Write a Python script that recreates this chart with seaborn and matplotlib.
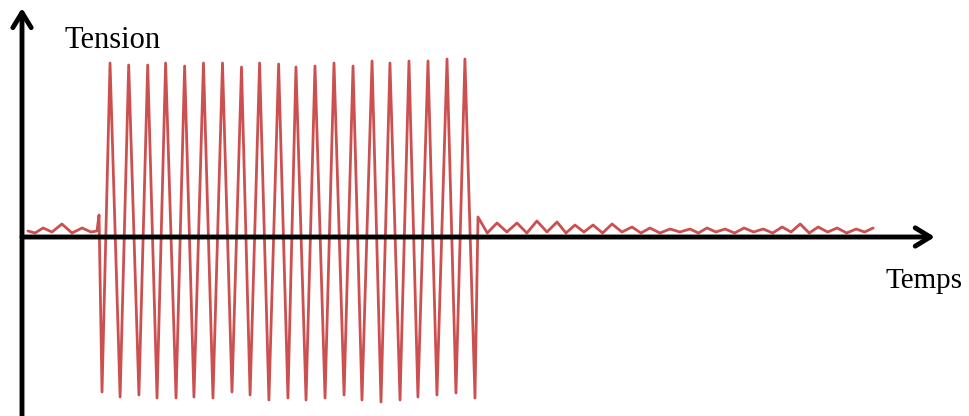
import numpy as np
import pandas as pd
import matplotlib
matplotlib.use("Agg")
import matplotlib.pyplot as plt
import seaborn as sns

# Signal: time (one unit = one period), tension (V)
pre_t = [0.32, 0.70, 1.13, 1.61, 2.14, 2.68, 3.22, 3.70, 4.02, 4.13]
pre_v = [0.06, 0.04, 0.09, 0.05, 0.13, 0.04, 0.09, 0.05, 0.06, 0.22]

trough_t = [4.29, 5.26, 6.27, 7.24, 8.26, 9.22, 10.24, 11.26, 12.23, 13.24, 14.26,
            15.23, 16.25, 17.27, 18.23, 19.25, 20.27, 21.23, 22.25, 23.27, 24.29]
trough_v = [-1.55, -1.60, -1.58, -1.61, -1.61, -1.60, -1.61, -1.55, -1.58, -1.63, -1.61,
            -1.63, -1.61, -1.58, -1.63, -1.65, -1.63, -1.60, -1.58, -1.56, -1.61]
peak_t = [4.72, 5.72, 6.74, 7.70, 8.72, 9.73, 10.75, 11.77, 12.74, 13.76,
          14.69, 15.71, 16.73, 17.75, 18.77, 19.73, 20.75, 21.77, 22.79, 23.75]
peak_v = [1.74, 1.72, 1.72, 1.74, 1.71, 1.74, 1.74, 1.70, 1.74, 1.73,
          1.70, 1.71, 1.74, 1.71, 1.76, 1.74, 1.76, 1.76, 1.78, 1.78]

post_high_t = [24.45, 25.47, 26.54, 27.61, 28.69, 29.65, 30.62, 31.64, 32.71, 33.67, 34.75,
               35.82, 36.73, 37.70, 38.72, 39.74, 40.76, 41.73, 42.69, 43.71, 44.73, 45.64]
post_high_v = [0.20, 0.14, 0.14, 0.16, 0.15, 0.12, 0.12, 0.13, 0.10, 0.09, 0.08,
               0.08, 0.09, 0.08, 0.09, 0.08, 0.10, 0.13, 0.10, 0.09, 0.08, 0.09]
post_low_t = [24.95, 26.00, 27.07, 28.15, 29.17, 30.13, 31.13, 32.17, 33.19, 34.21, 35.28,
              36.27, 37.21, 38.21, 39.23, 40.25, 41.24, 42.21, 43.20, 44.22, 45.18]
post_low_v = [0.04, 0.05, 0.04, 0.05, 0.04, 0.05, 0.04, 0.05, 0.04, 0.04, 0.05,
              0.04, 0.05, 0.04, 0.05, 0.04, 0.05, 0.04, 0.05, 0.04, 0.05]

# assemble the burst and the ripples by alternating extrema
burst_t, burst_v = [], []
for i in range(len(trough_t)):
    burst_t.append(trough_t[i]); burst_v.append(trough_v[i])
    if i < len(peak_t):
        burst_t.append(peak_t[i]); burst_v.append(peak_v[i])
post_t, post_v = [], []
for i in range(len(post_high_t)):
    post_t.append(post_high_t[i]); post_v.append(post_high_v[i])
    if i < len(post_low_t):
        post_t.append(post_low_t[i]); post_v.append(post_low_v[i])

df = pd.DataFrame({"temps": pre_t + burst_t + post_t,
                   "tension": pre_v + burst_v + post_v})

sns.set_theme(style="white")
plt.rcParams["font.family"] = ["Liberation Serif", "DejaVu Serif"]

fig = plt.figure(figsize=(9.69, 4.16), dpi=100)
ax = fig.add_axes([0, 0, 1, 1])
sns.lineplot(data=df, x="temps", y="tension", ax=ax, estimator=None, sort=False,
             color="#cc5050", linewidth=2.0)

ax.set_xlim(-1.18, 50.78)
ax.set_ylim(-1.79, 2.37)
ax.axis("off")

arrow = dict(arrowstyle="->,head_length=0.9,head_width=0.55", lw=3.5, color="black",
             shrinkA=0, shrinkB=0)
ax.annotate("", xy=(48.95, 0.0), xytext=(0.0, 0.0), arrowprops=arrow)
ax.annotate("", xy=(0.0, 2.29), xytext=(0.0, -1.85), arrowprops=arrow)

ax.text(2.3, 1.97, "Tension", fontsize=22, va="center", ha="left", color="black")
ax.text(46.3, -0.44, "Temps", fontsize=21, va="center", ha="left", color="black")

fig.savefig("out.png", dpi=100)
